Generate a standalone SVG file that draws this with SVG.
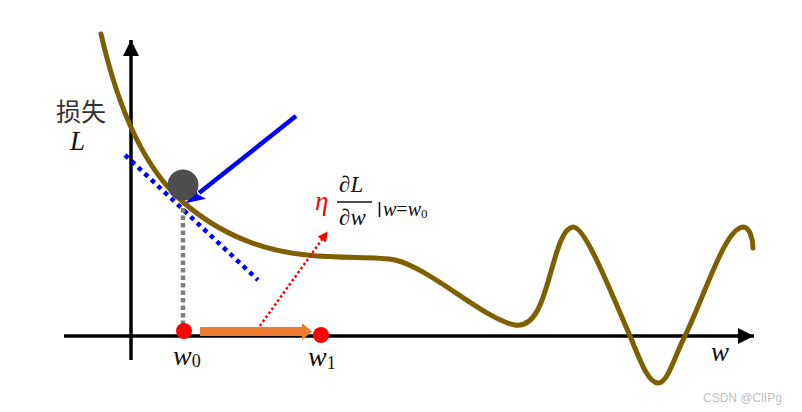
<svg xmlns="http://www.w3.org/2000/svg" width="802" height="412" viewBox="0 0 802 412">
<style>
.axis{stroke:#000;stroke-width:3.5;fill:none}
.curve{stroke:#7f6000;stroke-width:5;fill:none;stroke-linecap:round;stroke-linejoin:round}
.math{font-family:"Liberation Serif","DejaVu Serif",serif;font-style:italic;fill:#111}
.cjk{font-family:"Noto Sans CJK SC","Noto Sans",sans-serif;fill:#333}
.dot{fill:#ff0000}
</style>
<defs>
<marker id="ah-black" markerUnits="userSpaceOnUse" markerWidth="18" markerHeight="18" refX="16" refY="8" orient="auto"><path d="M0,0 L16,8 L0,16 Z" fill="#000"/></marker>
<marker id="ah-blue" markerUnits="userSpaceOnUse" markerWidth="20" markerHeight="20" refX="2" refY="9" orient="auto"><path d="M0,0 L18,9 L0,18 L4,9 Z" fill="#0000ff"/></marker>
<marker id="ah-red" markerUnits="userSpaceOnUse" markerWidth="12" markerHeight="12" refX="2" refY="5" orient="auto"><path d="M0,0 L10,5 L0,10 Z" fill="#ff0000"/></marker>
</defs>
<g id="axes">
<line class="axis" x1="131" y1="360" x2="131" y2="40" marker-end="url(#ah-black)"/>
<line class="axis" x1="64" y1="336" x2="754" y2="336" stroke-width="3" marker-end="url(#ah-black)"/>
</g>
<g id="loss-curve">
<path class="curve" d="M101,34 C115,95 140,165 183,202 C215,230 255,250 307,255 C345,259 375,256 395,260 C430,268 485,320 515,325 C535,328 543,300 550,275 C556,255 562,228 573,227 C585,226 610,290 630,336 C640,360 648,383 658,383 C668,383 675,355 685,336 C705,295 725,228 743,227 C750,227 753,240 753,248"/>
</g>
<g id="connectors">
<line id="tangent" x1="125" y1="155" x2="258" y2="280" stroke="#0000ff" stroke-width="4.5" stroke-dasharray="4.5 4.5"/>
<line id="drop" x1="183" y1="208" x2="183" y2="325" stroke="#7f7f7f" stroke-width="4.5" stroke-dasharray="4.5 3"/>
<line id="blue-arrow" x1="296" y1="116" x2="199" y2="193" stroke="#0000ff" stroke-width="4.5" marker-end="url(#ah-blue)"/>
<line id="red-arrow" x1="257" y1="330" x2="323" y2="238" stroke="#ff0000" stroke-width="2.5" stroke-dasharray="2.5 2.5" marker-end="url(#ah-red)"/>
<path id="step-arrow" d="M200,327 L302,327 L302,323 L312,331.5 L302,340 L302,336 L200,336 Z" fill="#ed7d31"/>
</g>
<g id="ball"><circle cx="183" cy="185" r="15.5" fill="#4d4d4d"/></g>
<g id="w0"><circle class="dot" cx="184" cy="331" r="8"/><text class="math" x="173" y="365" font-size="28">w<tspan font-size="18" font-style="normal" dy="2">0</tspan></text></g>
<g id="w1"><circle class="dot" cx="321" cy="335" r="8"/><text class="math" x="308" y="366" font-size="28">w<tspan font-size="18" font-style="normal" dy="3">1</tspan></text></g>
<g id="loss-label">
<text class="cjk" x="56" y="121" font-size="25">损失</text>
<text class="math" x="70" y="150" font-size="27">L</text>
</g>
<g id="w-label"><text class="math" x="711" y="361" font-size="27">w</text></g>
<g id="gradient-label">
<text class="math" x="315" y="210" font-size="27" style="fill:#ff0000">η</text>
<text class="math" x="339" y="192" font-size="23"><tspan font-style="normal">∂</tspan>L</text>
<line x1="337" y1="202" x2="372" y2="202" stroke="#111" stroke-width="1.6"/>
<text class="math" x="339" y="225" font-size="23"><tspan font-style="normal">∂</tspan>w</text>
<line x1="379.5" y1="202" x2="379.5" y2="217" stroke="#111" stroke-width="1.6"/>
<text class="math" x="383" y="216" font-size="20">w<tspan font-style="normal">=</tspan>w<tspan font-size="13" font-style="normal" dy="2">0</tspan></text>
</g>
<g id="watermark"><text x="703" y="402" font-family="Liberation Sans,sans-serif" font-size="12" fill="#c0c0c0">CSDN @ClIPg</text></g>
</svg>
